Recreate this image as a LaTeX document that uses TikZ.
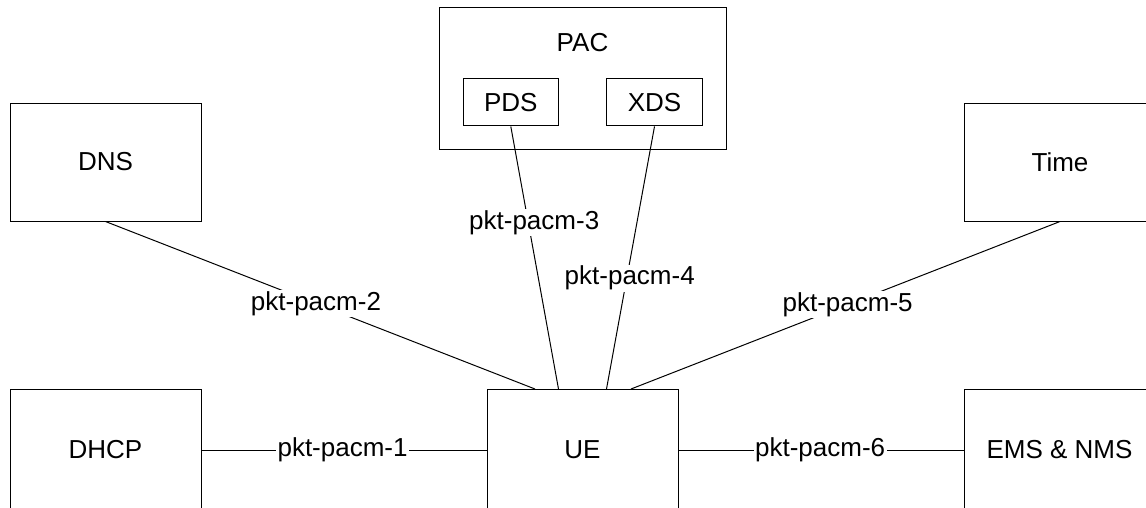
\documentclass[tikz,border=0pt]{standalone}
\usepackage{fontspec}
\setmainfont{Liberation Sans}
\begin{document}
\begin{tikzpicture}[x=1pt,y=-1pt,
  box/.style={draw, line width=1pt, inner sep=0pt, font=\fontsize{26}{30}\selectfont},
  txt/.style={inner sep=0pt, font=\fontsize{26}{30}\selectfont},
  lbl/.style={fill=white, inner sep=1.5pt, font=\fontsize{26}{30}\selectfont},
  conn/.style={line width=1pt}]
\useasboundingbox (0,0) rectangle (1146,507);
\clip (0,0) rectangle (1146,507);
% boxes
\node[box, minimum width=191pt, minimum height=118pt] (dns) at (105.5,162) {DNS};
\node[box, minimum width=191pt, minimum height=118pt] (time) at (1060,162) {Time};
\node[box, minimum width=191pt, minimum height=121pt] (dhcp) at (105.5,450) {DHCP};
\node[box, minimum width=191pt, minimum height=121pt] (ue) at (582.5,450) {UE};
\node[box, minimum width=191pt, minimum height=121pt] (ems) at (1059.5,450) {EMS \& NMS};
\node[box, minimum width=287pt, minimum height=142pt] (pac) at (582.6,78.2) {};
\node[txt] (pactitle) at (582.5,43) {PAC};
\node[box, minimum width=95pt, minimum height=47.3pt] (pds) at (510.8,102.3) {PDS};
\node[box, minimum width=95.6pt, minimum height=47.3pt] (xds) at (654.5,102.3) {XDS};
% connectors
\draw[conn] (dhcp.east) -- node[lbl, pos=0.495] {pkt-pacm-1} (ue.west);
\draw[conn] (ue.east) -- node[lbl, pos=0.497] {pkt-pacm-6} (ems.west);
\draw[conn] (dns.south) -- node[lbl, pos=0.49] {pkt-pacm-2} ([xshift=-47.5pt]ue.north);
\draw[conn] (time.south) -- node[lbl, pos=0.495] {pkt-pacm-5} ([xshift=48.5pt]ue.north);
\draw[conn] (pds.south) -- node[lbl, pos=0.365, xshift=6pt] {pkt-pacm-3} ([xshift=-24pt]ue.north);
\draw[conn] (xds.south) -- node[lbl, pos=0.578, xshift=3pt] {pkt-pacm-4} ([xshift=24pt]ue.north);
\end{tikzpicture}
\end{document}
